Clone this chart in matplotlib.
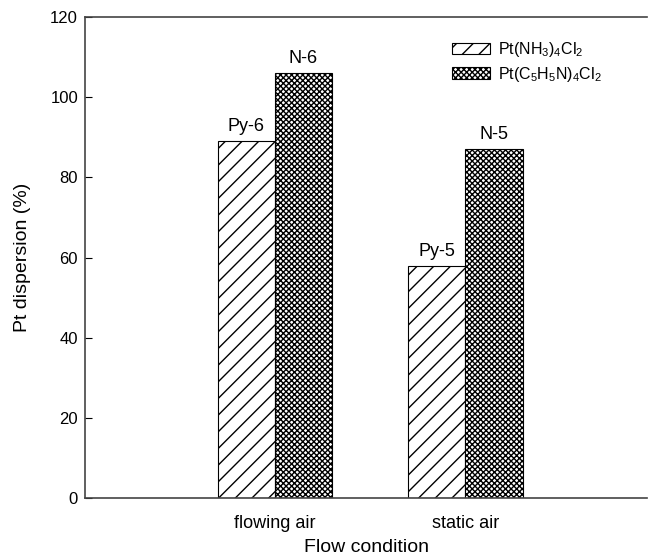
import matplotlib
matplotlib.use("Agg")
import matplotlib.pyplot as plt
import numpy as np

plt.rcParams['font.family'] = ['Liberation Sans', 'DejaVu Sans']
plt.rcParams['mathtext.default'] = 'regular'
plt.rcParams['hatch.linewidth'] = 1.0

categories = ["flowing air", "static air"]
series_names = ["Pt(NH$_3$)$_4$Cl$_2$", "Pt(C$_5$H$_5$N)$_4$Cl$_2$"]
py_values = [89, 58]
n_values = [106, 87]
py_labels = ["Py-6", "Py-5"]
n_labels = ["N-6", "N-5"]
yticks = [0, 20, 40, 60, 80, 100, 120]

fig = plt.figure(figsize=(6.49, 5.57), dpi=100)
ax = fig.add_axes([0.131, 0.106, 0.866, 0.863])

x = np.arange(1, len(categories) + 1)
w = 0.3
ax.bar(x - w / 2, py_values, w, color='white', edgecolor='black', hatch='//', linewidth=0.8, label=series_names[0])
ax.bar(x + w / 2, n_values, w, color='white', edgecolor='black', hatch='xxxxxx', linewidth=0.8, label=series_names[1])

for xi, v, lab in zip(x - w / 2, py_values, py_labels):
    ax.text(xi, v + 1.5, lab, ha='center', va='bottom', fontsize=13)
for xi, v, lab in zip(x + w / 2, n_values, n_labels):
    ax.text(xi, v + 1.5, lab, ha='center', va='bottom', fontsize=13)

ax.set_xlim(0.005, 2.953)
ax.set_ylim(0, 120)
ax.set_xticks(x)
ax.set_xticklabels(categories, fontsize=13)
ax.set_yticks(yticks)
ax.tick_params(axis='y', direction='in', length=5, labelsize=12, pad=5)
ax.tick_params(axis='x', length=0, labelsize=13, pad=12)
ax.spines['right'].set_visible(False)
for s in ['left', 'bottom', 'top']:
    ax.spines[s].set_color('#444444')
    ax.spines[s].set_linewidth(1.2)

ax.set_xlabel("Flow condition", fontsize=14, labelpad=5)
ax.set_ylabel("Pt dispersion (%)", fontsize=14, labelpad=14)

ax.legend(loc='upper left', bbox_to_anchor=(452 / 649, 1 - 40 / 557), bbox_transform=fig.transFigure,
          frameon=False, fontsize=11.5, borderpad=0, borderaxespad=0,
          handlelength=2.4, handleheight=0.75, labelspacing=0.35, handletextpad=0.5)

fig.savefig("out.png", dpi=100)
